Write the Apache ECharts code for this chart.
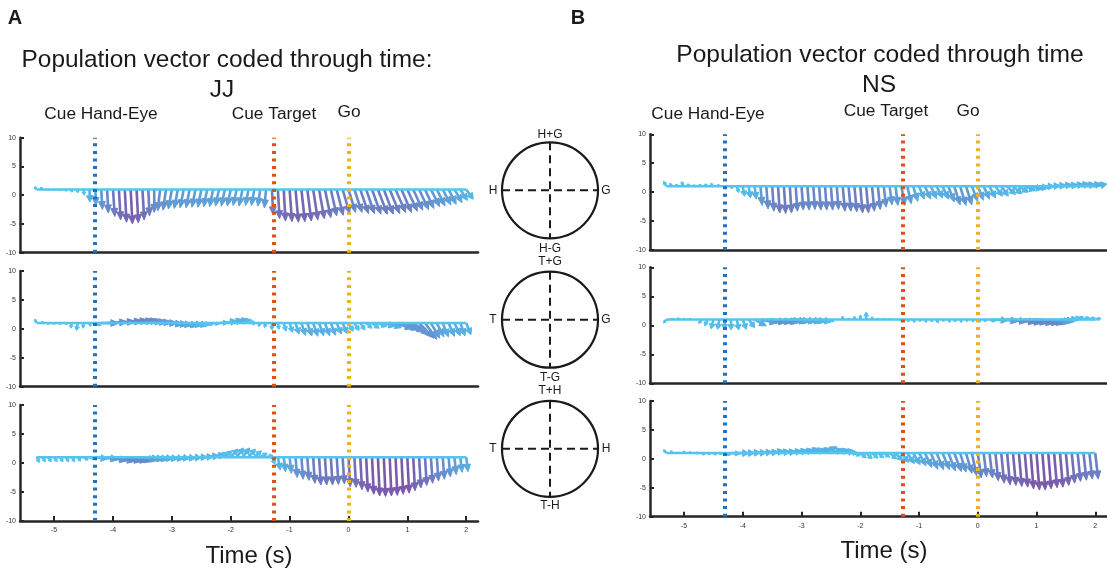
<!DOCTYPE html>
<html>
<head>
<meta charset="utf-8">
<script src="https://cdn.jsdelivr.net/npm/echarts@6/dist/echarts.min.js"></script>
<style>
  html, body { margin: 0; padding: 0; background: #fff; }
  #chart { width: 1107px; height: 573px; }
</style>
</head>
<body>
<div id="chart"></div>
<script>
// Sample times (s) of the population vector, relative to Go
const times = [-5.3,-5.2,-5.1,-5.0,-4.9,-4.8,-4.7,-4.6,-4.5,-4.4,
  -4.3,-4.2,-4.1,-4.0,-3.9,-3.8,-3.7,-3.6,-3.5,-3.4,
  -3.3,-3.2,-3.1,-3.0,-2.9,-2.8,-2.7,-2.6,-2.5,-2.4,
  -2.3,-2.2,-2.1,-2.0,-1.9,-1.8,-1.7,-1.6,-1.5,-1.4,
  -1.3,-1.2,-1.1,-1.0,-0.9,-0.8,-0.7,-0.6,-0.5,-0.4,
  -0.3,-0.2,-0.1,0.0,0.1,0.2,0.3,0.4,0.5,0.6,
  0.7,0.8,0.9,1.0,1.1,1.2,1.3,1.4,1.5,1.6,
  1.7,1.8,1.9,2.0];

// Task events (s) and their names
const eventTimes = [-4.31, -1.27, 0];
const eventNames = ['Cue Hand-Eye', 'Cue Target', 'Go'];

// Axis ticks
const xTicks = [-5, -4, -3, -2, -1, 0, 1, 2];
const yTicks = [-10, -5, 0, 5, 10];
const vectorBase = 1;

// JJ: Hand/Gaze plane (dx in s, dy in units)
const jjHGdx = [-0.03,-0.03,0,0,0,0,0,0,0.01,0.01,
  0.01,0.02,0.02,0.03,0.03,0.03,0.03,0.03,0.03,0.02,
  0.0,-0.04,-0.05,-0.06,-0.06,-0.06,-0.06,-0.06,-0.06,-0.06,
  -0.06,-0.06,-0.06,-0.06,-0.06,-0.06,-0.05,-0.05,-0.04,-0.03,
  0.02,0.03,0.03,0.04,0.05,0.06,0.07,0.08,0.09,0.1,
  0.1,0.11,0.12,0.12,0.13,0.14,0.14,0.15,0.16,0.16,
  0.17,0.17,0.17,0.17,0.16,0.16,0.15,0.15,0.14,0.14,
  0.13,0.13,0.12,0.12];
const jjHGdy = [0.5,0.4,-0.1,-0.1,-0.2,-0.3,-0.5,-0.6,-1.0,-2.2,
  -2.8,-3.5,-4.1,-4.7,-5.3,-5.7,-6.0,-5.8,-5.3,-4.6,
  -4.0,-3.7,-3.6,-3.4,-3.3,-3.2,-3.2,-3.1,-3.1,-3.0,
  -3.0,-2.9,-2.9,-2.9,-2.8,-2.9,-2.8,-2.8,-2.9,-3.2,
  -4.4,-5.1,-5.5,-5.6,-5.7,-5.6,-5.5,-5.3,-5.1,-4.9,
  -4.6,-4.5,-4.2,-4.0,-4.0,-4.2,-4.2,-4.3,-4.3,-4.3,
  -4.2,-4.0,-4.0,-3.8,-3.6,-3.5,-3.3,-3.0,-2.9,-2.7,
  -2.6,-2.3,-1.9,-1.7];

// JJ: Target/Gaze plane
const jjTGdx = [-0.03,0,0,0,0,0,-0.02,-0.02,-0.01,0.02,
  0.1,0.3,0.35,0.38,0.4,0.4,0.4,0.38,0.35,0.32,
  0.3,0.3,0.3,0.28,0.25,0.25,0.22,0.2,0.15,0.1,
  0.1,0.15,0.2,0.2,0.2,0.15,0.1,-0.03,-0.03,-0.03,
  0.0,0.02,0.04,0.05,0.06,0.07,0.08,0.08,0.08,0.08,
  0.08,0.08,0.08,0.08,0.08,0.08,0.1,0.12,0.15,0.18,
  0.2,0.3,0.3,0.3,0.28,0.25,0.2,0.15,0.12,0.1,
  0.1,0.1,0.08,0.08];
const jjTGdy = [0.7,0.3,-0.2,-0.2,-0.2,-0.2,-0.9,-1.3,-0.9,-0.6,
  -0.4,0.0,0.2,0.3,0.4,0.5,0.5,0.5,0.4,0.3,
  0.2,0.0,-0.2,-0.3,-0.4,-0.5,-0.4,-0.4,-0.3,-0.3,
  -0.2,0.1,0.4,0.6,0.7,0.6,0.3,-0.3,-0.6,-0.8,
  -1.2,-1.1,-1.4,-1.6,-1.9,-2.1,-2.2,-2.3,-2.2,-2.2,
  -2.1,-1.9,-1.8,-1.4,-1.3,-1.2,-0.9,-0.9,-0.6,-0.6,
  -0.8,-1.0,-1.2,-1.6,-2.1,-2.6,-2.8,-2.6,-2.4,-2.4,
  -2.3,-2.2,-2.2,-2.0];

// JJ: Target/Hand plane
const jjTHdx = [0.05,0.05,0.05,0.05,0.05,0.05,0.05,0.05,0.08,0.1,
  0.2,0.3,0.35,0.38,0.4,0.4,0.38,0.35,0.3,0.28,
  0.25,0.22,0.2,0.2,0.2,0.2,0.2,0.2,0.2,0.2,
  0.2,0.15,0.12,0.12,0.12,0.12,0.12,0.12,0.12,0.12,
  0.05,0.04,0.03,0.03,0.03,0.03,0.03,0.03,0.03,0.03,
  0.03,0.03,0.03,0.03,0.03,0.03,0.03,0.03,0.03,0.03,
  0.03,0.03,0.03,0.03,0.03,0.03,0.03,0.03,0.03,0.03,
  0.03,0.03,0.03,0.03];
const jjTHdy = [-0.9,-0.8,-0.8,-0.8,-0.8,-0.8,-0.8,-0.7,-0.5,-0.3,
  -0.3,-0.4,-0.6,-0.7,-0.7,-0.7,-0.6,-0.5,-0.4,-0.4,
  -0.4,-0.3,-0.3,-0.3,-0.2,-0.2,-0.1,0.0,0.1,0.3,
  0.5,0.8,1.1,1.4,1.6,1.6,1.4,1.1,0.7,0.3,
  -1.2,-2.2,-2.5,-2.8,-3.5,-3.8,-4.0,-4.5,-4.8,-4.8,
  -4.8,-4.7,-4.6,-5.1,-5.2,-5.6,-6.0,-6.4,-6.7,-6.8,
  -6.7,-6.6,-6.4,-6.2,-5.8,-5.3,-4.9,-4.5,-4.1,-3.8,
  -3.4,-3.0,-2.6,-2.5];

// NS: Hand/Gaze plane
const nsHGdx = [-0.05,-0.05,-0.05,-0.05,-0.05,-0.05,-0.05,-0.05,-0.05,-0.03,
  0,0.02,0.03,0.03,0.03,0.03,0.03,0.03,0.03,0.03,
  0.03,0.03,0.03,0.03,0.03,0.03,0.03,0.03,0.03,0.03,
  0.04,0.04,0.04,0.04,0.04,0.04,0.04,0.04,0.04,0.04,
  0.06,0.07,0.08,0.09,0.1,0.1,0.1,0.1,0.1,0.1,
  0.1,0.1,0.1,0.1,0.1,0.1,0.12,0.12,0.14,0.15,
  0.16,0.18,0.2,0.2,0.2,0.2,0.2,0.2,0.2,0.2,
  0.2,0.2,0.2,0.2];
const nsHGdy = [0.9,0.5,0.3,0.8,0.4,0.2,0.3,0.4,0.5,0.3,
  0.0,-0.4,-1.1,-1.7,-2.0,-2.2,-3.3,-3.9,-4.3,-4.6,
  -4.7,-4.6,-4.3,-4.1,-4.1,-4.0,-4.1,-4.1,-4.1,-4.0,
  -4.3,-4.3,-4.4,-4.6,-4.6,-4.3,-4.0,-3.6,-3.2,-3.3,
  -3.3,-3.0,-2.6,-2.2,-2.2,-2.1,-2.0,-2.2,-2.7,-3.2,
  -3.3,-3.2,-2.6,-2.4,-2.2,-2.0,-1.7,-1.7,-1.4,-1.3,
  -1.0,-0.7,-0.5,-0.3,0.0,0.1,0.2,0.3,0.3,0.4,
  0.5,0.4,0.5,0.4];

// NS: Target/Gaze plane
const nsTGdx = [-0.05,0,0,0,0,0,-0.05,-0.05,-0.04,-0.03,
  -0.02,0,0.03,0.06,0.1,0.2,0.3,0.35,0.35,0.35,
  0.3,0.3,0.25,0.25,0.25,0.2,0.2,0.1,0.05,0.0,
  0.0,0.0,0.0,0.0,0.0,0.0,0.0,0.0,0.0,0.0,
  0.0,0.03,0.03,0.03,0.03,0.03,0.03,0.03,0.03,0.03,
  0.03,0.03,0.03,0.05,0.05,0.1,0.2,0.3,0.35,0.4,
  0.4,0.4,0.4,0.4,0.38,0.35,0.3,0.25,0.2,0.15,
  0.1,0.1,0.1,0.1];
const nsTGdy = [-0.6,0.2,0.3,0.2,0.2,0.0,-0.7,-1.1,-1.6,-1.7,
  -1.7,-1.8,-1.8,-1.7,-1.4,-1.1,-0.6,-0.5,-0.5,-0.5,
  -0.4,-0.4,-0.4,-0.4,-0.4,-0.4,-0.4,-0.5,-0.4,0.0,
  0.6,0.2,0.6,0.8,1.3,0.5,0.2,0.2,0.1,0.0,
  -0.3,-0.4,-0.5,-0.3,-0.5,-0.4,-0.6,-0.3,-0.5,-0.4,
  -0.5,-0.3,-0.4,-0.4,-0.3,-0.3,-0.2,-0.3,-0.4,-0.5,
  -0.6,-0.6,-0.7,-0.7,-0.7,-0.6,-0.5,-0.3,0.0,0.3,
  0.5,0.4,0.3,0.2];

// NS: Target/Hand plane
const nsTHdx = [-0.05,-0.03,0,0,0,0.05,0.05,0.05,0.05,0.05,
  0.1,0.15,0.2,0.2,0.2,0.2,0.2,0.2,0.2,0.2,
  0.2,0.2,0.2,0.2,0.2,0.2,0.2,0.2,0.2,0.2,
  0.2,0.15,0.1,0.1,0.1,0.1,0.1,0.1,0.12,0.12,
  0.12,0.12,0.12,0.12,0.12,0.12,0.12,0.12,0.12,0.12,
  0.1,0.1,0.08,0.06,0.05,0.05,0.05,0.05,0.05,0.05,
  0.05,0.05,0.05,0.05,0.05,0.05,0.05,0.05,0.05,0.05,
  0.05,0.05,0.05,0.05];
const nsTHdy = [0.6,0.4,0.1,0.4,0.2,0.0,-0.3,-0.2,-0.3,-0.2,
  -0.3,-0.1,0.0,0.0,0.1,0.1,0.2,0.2,0.4,0.3,
  0.3,0.4,0.5,0.6,0.8,0.7,0.8,1.1,0.7,0.6,
  0.4,0.1,-0.5,-0.8,-1.0,-0.9,-0.8,-0.7,-1.0,-1.3,
  -1.6,-1.8,-2.0,-2.2,-2.5,-2.8,-2.9,-2.9,-3.1,-3.2,
  -3.3,-3.5,-3.9,-4.3,-4.1,-4.3,-4.8,-5.2,-5.5,-5.6,
  -5.8,-5.9,-6.2,-6.4,-6.4,-6.2,-6.0,-5.9,-5.6,-5.2,
  -4.9,-4.7,-4.5,-4.5];

const FONT = '"Liberation Sans", Arial, sans-serif';
const AXIS_COLOR = '#262626';
const EVENT_COLORS = ['#1f72bd', '#d95319', '#edb120'];
const LIGHT = [80, 196, 240];
const DARK = [122, 90, 170];

// Panels: vector components and grid rectangle
const panels = [
  { dx: jjHGdx, dy: jjHGdy, left: 20,  width: 458, top: 137.7, height: 115,   last: false },
  { dx: jjTGdx, dy: jjTGdy, left: 20,  width: 458, top: 271,   height: 115.7, last: false },
  { dx: jjTHdx, dy: jjTHdy, left: 20,  width: 458, top: 405,   height: 116,   last: true },
  { dx: nsHGdx, dy: nsHGdy, left: 650, width: 457, top: 134.3, height: 115.7, last: false },
  { dx: nsTGdx, dy: nsTGdy, left: 650, width: 457, top: 267.3, height: 116,   last: false },
  { dx: nsTHdx, dy: nsTHdy, left: 650, width: 457, top: 401,   height: 115.7, last: true }
];

// Colour ramps from light blue (short vectors) to purple (long vectors)
function arrowColor(len) {
  const f = Math.max(0, Math.min(1, (len - 8) / 28));
  const c = LIGHT.map((v, k) => Math.round(v + (DARK[k] - v) * f));
  return 'rgb(' + c.join(',') + ')';
}

// Quiver arrow: shaft from the baseline plus a filled head
function renderArrow(params, api) {
  const t = api.value(0), dx = api.value(1), dy = api.value(2);
  const p0 = api.coord([t, vectorBase]);
  const p1 = api.coord([t + dx, vectorBase + dy]);
  const vx = p1[0] - p0[0], vy = p1[1] - p0[1];
  const len = Math.hypot(vx, vy);
  if (len < 0.5) return null;
  const ux = vx / len, uy = vy / len;
  const hl = Math.min(8, len * 0.5);
  const hw = Math.min(3.4, len * 0.3);
  const bx = p1[0] - ux * hl, by = p1[1] - uy * hl;
  const color = arrowColor(len);
  return {
    type: 'group',
    children: [
      { type: 'line', shape: { x1: p0[0], y1: p0[1], x2: bx + ux, y2: by + uy },
        style: { stroke: color, lineWidth: 2.6 } },
      { type: 'polygon',
        shape: { points: [[p1[0], p1[1]], [bx - uy * hw, by + ux * hw], [bx + uy * hw, by - ux * hw]] },
        style: { fill: color, stroke: color, lineWidth: 1, lineJoin: 'round' } }
    ]
  };
}

const grids = [], xAxes = [], yAxes = [], series = [];
panels.forEach((p, i) => {
  grids.push({ left: p.left, top: p.top, width: p.width, height: p.height });
  xAxes.push({
    type: 'value', gridIndex: i, min: -5.58, max: 2.2,
    splitLine: { show: false },
    axisLine: { show: true, onZero: false, lineStyle: { color: AXIS_COLOR, width: 2.5 } },
    axisTick: { show: p.last, inside: true, length: 5, customValues: xTicks,
      lineStyle: { color: AXIS_COLOR, width: 2 } },
    axisLabel: { show: p.last, customValues: xTicks, fontSize: 7, color: '#333',
      fontFamily: FONT, margin: 6 }
  });
  yAxes.push({
    type: 'value', gridIndex: i, min: yTicks[0], max: yTicks[yTicks.length - 1], interval: 5,
    splitLine: { show: false },
    axisLine: { show: true, onZero: false, lineStyle: { color: AXIS_COLOR, width: 2.5 } },
    axisTick: { show: true, inside: true, length: 4, lineStyle: { color: AXIS_COLOR, width: 2 } },
    axisLabel: { fontSize: 7, color: '#333', fontFamily: FONT, margin: 4 }
  });
  series.push({
    type: 'custom', xAxisIndex: i, yAxisIndex: i, silent: true, animation: false,
    renderItem: renderArrow,
    encode: { x: 0, y: 2 },
    data: times.map((t, k) => [t, p.dx[k], p.dy[k]]),
    z: 2
  });
  series.push({
    type: 'line', xAxisIndex: i, yAxisIndex: i, silent: true, animation: false,
    symbol: 'none',
    lineStyle: { color: 'rgb(85,196,240)', width: 2.5 },
    data: [[times[0], vectorBase], [times[times.length - 1], vectorBase]],
    markLine: {
      silent: true, animation: false, symbol: ['none', 'none'],
      label: { show: false },
      lineStyle: { type: [3, 4.6], width: 4 },
      data: eventTimes.map((e, k) => ({ xAxis: e, lineStyle: { color: EVENT_COLORS[k], type: [3, 4.6], width: 4 } }))
    },
    z: 3
  });
});

function txt(x, y, text, size, weight) {
  return {
    type: 'text', x: x, y: y, silent: true,
    style: { text: text, font: (weight ? weight + ' ' : '') + size + 'px ' + FONT, fill: '#1a1a1a',
      textAlign: 'center', textVerticalAlign: 'middle' }
  };
}

const graphics = [
  txt(15, 18, 'A', 20, 'bold'),
  txt(578, 18, 'B', 20, 'bold'),
  txt(227, 60, 'Population vector coded through time:', 24.4),
  txt(222, 90, 'JJ', 24.4),
  txt(880, 55, 'Population vector coded through time', 24.6),
  txt(879, 85, 'NS', 24.6),
  txt(101, 114, eventNames[0], 17.3),
  txt(274, 114, eventNames[1], 17.3),
  txt(349, 112, eventNames[2], 17.3),
  txt(708, 114, eventNames[0], 17.3),
  txt(886, 111, eventNames[1], 17.3),
  txt(968, 111, eventNames[2], 17.3),
  txt(249, 556, 'Time (s)', 24),
  txt(884, 551, 'Time (s)', 24)
];

// Reference circles for the three planes
const circles = [
  { cy: 190.3, top: 'H+G', left: 'H', right: 'G', bottom: 'H-G', topY: 135, botY: 249 },
  { cy: 319.7, top: 'T+G', left: 'T', right: 'G', bottom: 'T-G', topY: 262, botY: 378 },
  { cy: 448.8, top: 'T+H', left: 'T', right: 'H', bottom: 'T-H', topY: 391, botY: 506 }
];
const cx = 550, r = 48;
circles.forEach(c => {
  graphics.push({ type: 'circle', silent: true, shape: { cx: cx, cy: c.cy, r: r },
    style: { fill: 'none', stroke: '#1a1a1a', lineWidth: 2.2 } });
  graphics.push({ type: 'line', silent: true, shape: { x1: cx - r, y1: c.cy, x2: cx + r, y2: c.cy },
    style: { stroke: '#1a1a1a', lineWidth: 2, lineDash: [8, 5] } });
  graphics.push({ type: 'line', silent: true, shape: { x1: cx, y1: c.cy - r, x2: cx, y2: c.cy + r },
    style: { stroke: '#1a1a1a', lineWidth: 2, lineDash: [8, 5] } });
  graphics.push(txt(cx, c.topY, c.top, 12));
  graphics.push(txt(cx, c.botY, c.bottom, 12));
  graphics.push(txt(493, c.cy, c.left, 12));
  graphics.push(txt(606, c.cy, c.right, 12));
});

const chart = echarts.init(document.getElementById('chart'), null, { renderer: 'canvas' });
chart.setOption({
  backgroundColor: '#fff',
  animation: false,
  grid: grids,
  xAxis: xAxes,
  yAxis: yAxes,
  series: series,
  graphic: graphics
});
</script>
</body>
</html>
